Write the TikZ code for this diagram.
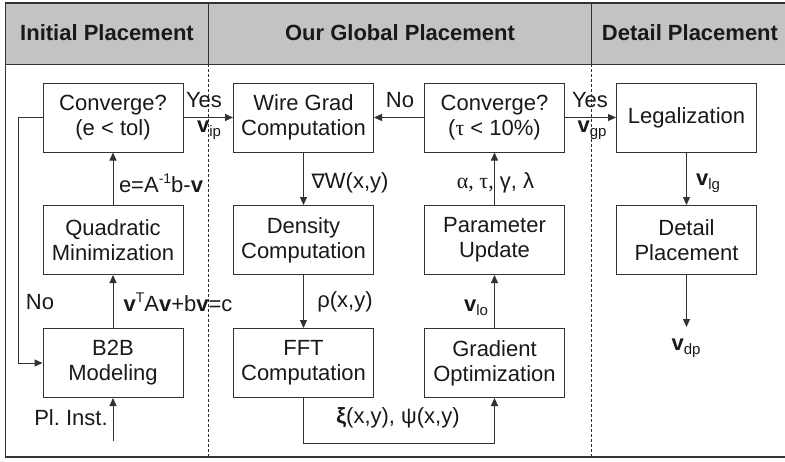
\documentclass[tikz,border=0pt]{standalone}
\usepackage{fontspec}
\setmainfont{Liberation Sans}
\newfontfamily\serfont{Liberation Serif}
\newfontfamily\djfont{DejaVu Sans}
\usetikzlibrary{arrows.meta}
\frenchspacing
\definecolor{hdr}{RGB}{195,195,195}
\definecolor{ln}{RGB}{50,50,50}
\definecolor{tx}{RGB}{25,25,25}
\newcommand{\mysup}[1]{\raisebox{0.75ex}{\fontsize{14}{14}\selectfont #1}}
\newcommand{\mysub}[1]{\raisebox{-0.35ex}{\fontsize{15}{15}\selectfont #1}}
\newcommand{\bv}{\textbf{v}}
\begin{document}
\begin{tikzpicture}[x=1pt,y=-1pt,
  every node/.style={text=tx,font=\fontsize{22}{25}\selectfont},
  box/.style={draw=ln,line width=1pt,minimum width=140pt,minimum height=69pt,inner sep=0pt,align=center},
  arr/.style={draw=ln,line width=1pt,-{Triangle[length=8pt,width=7pt]}},
  lab/.style={inner sep=0pt},
  hd/.style={font=\fontsize{22}{25}\selectfont\bfseries,inner sep=0pt}]
\useasboundingbox (0,0) rectangle (785,461);
% header
\fill[hdr] (5,3) rectangle (785,64);
\draw[ln,line width=1.5pt] (5,3) -- (785,3);
\draw[ln,line width=1pt] (5,64) -- (785,64);
\draw[ln,line width=1pt] (5,3) -- (5,457);
\draw[ln,line width=2pt] (5,457) -- (785,457);
\draw[ln,line width=1pt] (208,3) -- (208,64);
\draw[ln,line width=1pt] (591,3) -- (591,64);
\draw[ln,line width=0.8pt,dash pattern=on 3pt off 2pt] (208,64) -- (208,457);
\draw[ln,line width=0.8pt,dash pattern=on 3pt off 2pt] (591,64) -- (591,457);
\node[hd] (h1) at (107,33) {Initial Placement};
\node[hd] (h2) at (400,33) {Our Global Placement};
\node[hd] (h3) at (690,33) {Detail Placement};
% boxes
\node[box] (conv1) at (113,117.5) {Converge?\\(e {<} tol)};
\node[box] (wire) at (303.5,117.5) {Wire Grad\\Computation};
\node[box] (conv2) at (494.5,117.5) {Converge?\\({\serfont τ} {<} 10\%)};
\node[box] (legal) at (686.5,117.5) {Legalization};
\node[box] (quad) at (113,240) {Quadratic\\Minimization};
\node[box] (dens) at (303.5,240) {Density\\Computation};
\node[box] (param) at (494.5,240) {Parameter\\Update};
\node[box] (detail) at (686.5,240) {Detail\\Placement};
\node[box] (b2b) at (113,363) {B2B\\Modeling};
\node[box] (fft) at (303.5,363) {FFT\\Computation};
\node[box] (gopt) at (494.5,363) {Gradient\\Optimization};
% coordinates
\coordinate (lpA) at (18,117.5);
\coordinate (lpB) at (18,363);
\coordinate (plin) at (113,441);
\coordinate (fA) at (303.5,443);
\coordinate (fB) at (494.5,443);
\coordinate (vdpend) at (686.5,327);
% connectors
\draw[arr] (conv1.east) -- (wire.west);
\draw[arr] (conv2.west) -- (wire.east);
\draw[arr] (conv2.east) -- (legal.west);
\draw[arr] (quad.north) -- (conv1.south);
\draw[arr] (b2b.north) -- (quad.south);
\draw[arr] (conv1.west) -- (lpA) -- (lpB) -- (b2b.west);
\draw[arr] (plin) -- (b2b.south);
\draw[arr] (wire.south) -- (dens.north);
\draw[arr] (dens.south) -- (fft.north);
\draw[arr] (fft.south) -- (fA) -- (fB) -- (gopt.south);
\draw[arr] (gopt.north) -- (param.south);
\draw[arr] (param.north) -- (conv2.south);
\draw[arr] (legal.south) -- (detail.north);
\draw[arr] (detail.south) -- (vdpend);
% labels
\node[lab] (l1) at (204,100) {Yes};
\node[lab] (l2) at (209,130) {\bv\mysub{ip}};
\node[lab] (l3) at (400,100) {No};
\node[lab] (l4) at (590,100) {Yes};
\node[lab] (l5) at (592,130) {\bv\mysub{gp}};
\node[lab] (l6) at (161,183) {e=A\mysup{-1}b-\bv};
\node[lab] (l7) at (350,183) {{\djfont\fontsize{20}{25}\selectfont ∇}W(x,y)};
\node[lab] (l8) at (495.5,183) {{\serfont α, τ,} γ, λ};
\node[lab] (l9) at (708,183) {\bv\mysub{lg}};
\node[lab] (l10) at (40,302) {No};
\node[lab] (l11) at (178,302) {\bv\mysup{T}A\bv+b\bv=c};
\node[lab] (l12) at (345,302) {ρ(x,y)};
\node[lab] (l13) at (476,308) {\bv\mysub{lo}};
\node[lab] (l14) at (71,418) {Pl. Inst.};
\node[lab] (l15) at (398,418) {\textbf{ξ}(x,y), ψ(x,y)};
\node[lab] (l16) at (686,348) {\bv\mysub{dp}};
\end{tikzpicture}
\end{document}
